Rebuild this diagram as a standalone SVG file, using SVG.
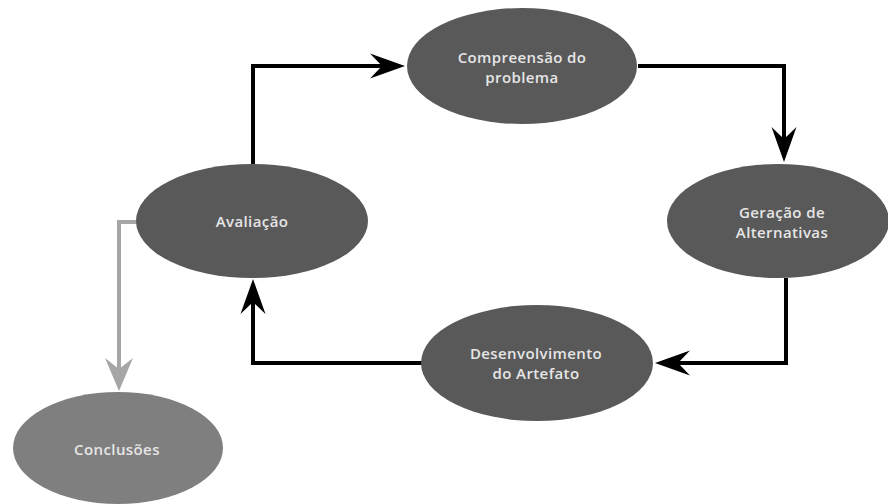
<svg xmlns="http://www.w3.org/2000/svg" width="888" height="504" viewBox="0 0 888 504">
<style>
.node{fill:#595959}
.light{fill:#7f7f7f}
.lbl{font-family:"Open Sans","DejaVu Sans",sans-serif;font-size:15px;font-weight:600;letter-spacing:0.4px;fill:#e6e6e6;text-anchor:middle}
.con{fill:none;stroke:#000;stroke-width:4}
.gray{fill:none;stroke:#a6a6a6;stroke-width:4}
</style>
<defs>
<marker id="ah" markerUnits="userSpaceOnUse" viewBox="-36 -14 37 28" markerWidth="37" markerHeight="28" refX="-23" refY="0" orient="auto">
<path d="M0,0 L-35,-12.5 L-23,0 L-35,12.5 Z" fill="#000"/>
</marker>
<marker id="ahg" markerUnits="userSpaceOnUse" viewBox="-36 -15 37 30" markerWidth="37" markerHeight="30" refX="-22" refY="0" orient="auto">
<path d="M0,0 L-33,-14 L-22,0 L-33,14 Z" fill="#a6a6a6"/>
</marker>
</defs>
<rect width="888" height="504" fill="#fff"/>
<g id="connectors">
<path class="con" d="M253,165 V66 H382" marker-end="url(#ah)"/>
<path class="con" d="M638,66 H784 V139" marker-end="url(#ah)"/>
<path class="con" d="M786,278 V363 H678" marker-end="url(#ah)"/>
<path class="con" d="M422,363 H253 V302" marker-end="url(#ah)"/>
<path class="gray" d="M137,222 H119 V369" marker-end="url(#ahg)"/>
</g>
<g id="compreensao">
<ellipse class="node" cx="522" cy="66" rx="115" ry="58"/>
<text class="lbl" x="522" y="63">Compreensão do</text>
<text class="lbl" x="522" y="83">problema</text>
</g>
<g id="avaliacao">
<ellipse class="node" cx="252" cy="221" rx="116" ry="57"/>
<text class="lbl" x="252" y="227">Avaliação</text>
</g>
<g id="geracao">
<ellipse class="node" cx="778" cy="221" rx="111" ry="57"/>
<text class="lbl" x="782" y="218">Geração de</text>
<text class="lbl" x="782" y="238">Alternativas</text>
</g>
<g id="desenvolvimento">
<ellipse class="node" cx="537" cy="363" rx="116" ry="58"/>
<text class="lbl" x="536" y="359">Desenvolvimento</text>
<text class="lbl" x="536" y="379">do Artefato</text>
</g>
<g id="conclusoes">
<ellipse class="light" cx="118" cy="448" rx="105" ry="56"/>
<text class="lbl" x="117" y="455">Conclusões</text>
</g>
</svg>
